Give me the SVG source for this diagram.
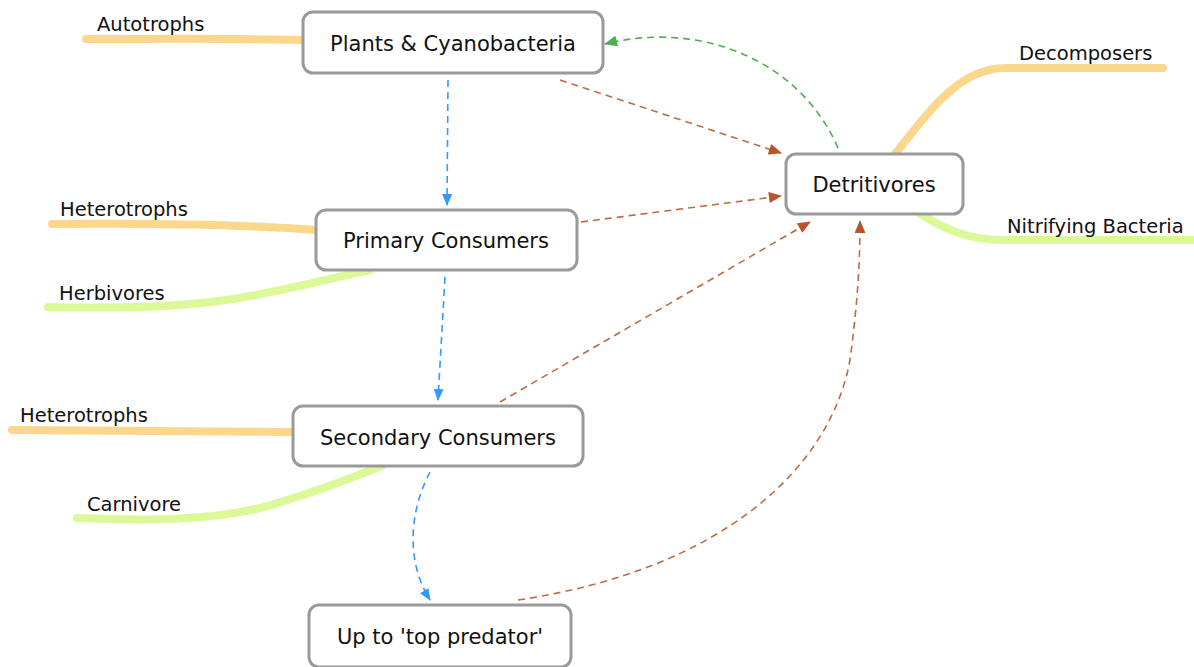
<svg xmlns="http://www.w3.org/2000/svg" width="1194" height="667" viewBox="0 0 1194 667">
  <style>
    .node rect { fill: #ffffff; stroke: #9a9a9a; stroke-width: 3; }
    .node text { font-family: "DejaVu Sans", Verdana, sans-serif; font-size: 21px; fill: #111; text-anchor: middle; }
    .branch path { fill: none; stroke-width: 8; stroke-linecap: round; }
    .branch text { font-family: "DejaVu Sans", Verdana, sans-serif; font-size: 19.5px; fill: #111; }
    .orange { stroke: #fbd78b; }
    .green { stroke: #dbf996; }
    .link { fill: none; stroke-width: 1.6; stroke-dasharray: 7 5; }
    .blue { stroke: #3399ff; }
    .brown { stroke: #c06a44; }
    .lgreen { stroke: #4caf50; }
  </style>
  <defs>
    <marker id="arrow-blue" viewBox="0 0 12 10" refX="11" refY="5" markerWidth="12" markerHeight="10" markerUnits="userSpaceOnUse" orient="auto">
      <path d="M0,0 L12,5 L0,10 Z" fill="#3399ff"/>
    </marker>
    <marker id="arrow-brown" viewBox="0 0 12 10" refX="11" refY="5" markerWidth="14" markerHeight="11" markerUnits="userSpaceOnUse" orient="auto">
      <path d="M0,0 L12,5 L0,10 Z" fill="#b9552d"/>
    </marker>
    <marker id="arrow-green" viewBox="0 0 12 10" refX="11" refY="5" markerWidth="14" markerHeight="11" markerUnits="userSpaceOnUse" orient="auto">
      <path d="M0,0 L12,5 L0,10 Z" fill="#4caf50"/>
    </marker>
  </defs>

  <!-- category branches hanging off the nodes -->
  <g id="branches" class="branch">
    <path class="orange" d="M86,39 C150,39 220,38 303,40"/>
    <text x="97" y="31">Autotrophs</text>

    <path class="orange" d="M52,224 C150,223 250,225 316,230"/>
    <text x="60" y="216">Heterotrophs</text>
    <path class="green" d="M48,307 C130,309 200,306 250,296 C300,287 340,276 370,270"/>
    <text x="59" y="300">Herbivores</text>

    <path class="orange" d="M12,430 C120,430 220,431 293,432"/>
    <text x="20" y="422">Heterotrophs</text>
    <path class="green" d="M77,518 C150,521 210,520 260,508 C310,495 350,478 382,466"/>
    <text x="87" y="511">Carnivore</text>

    <path class="orange" d="M895,154 C930,110 960,68 1005,68 L1163,68"/>
    <text x="1019" y="60">Decomposers</text>
    <path class="green" d="M920,214 C950,232 970,240 1005,240 L1194,240"/>
    <text x="1007" y="233">Nitrifying Bacteria</text>
  </g>

  <!-- flow connectors -->
  <g id="connectors">
    <path class="link blue" d="M448,80 L447,205" marker-end="url(#arrow-blue)"/>
    <path class="link blue" d="M445,277 L438,400" marker-end="url(#arrow-blue)"/>
    <path class="link blue" d="M430,472 C410,510 405,560 430,600" marker-end="url(#arrow-blue)"/>

    <path class="link brown" d="M560,80 L781,153" marker-end="url(#arrow-brown)"/>
    <path class="link brown" d="M581,222 L781,196" marker-end="url(#arrow-brown)"/>
    <path class="link brown" d="M500,402 L810,222" marker-end="url(#arrow-brown)"/>
    <path class="link brown" d="M518,600 C720,570 830,470 850,360 C858,300 860,260 860,221" marker-end="url(#arrow-brown)"/>

    <path class="link lgreen" d="M838,148 C800,60 700,20 605,44" marker-end="url(#arrow-green)"/>
  </g>

  <g id="node-plants" class="node">
    <rect x="303" y="12" width="300" height="61" rx="10"/>
    <text x="453" y="51">Plants &amp; Cyanobacteria</text>
  </g>
  <g id="node-primary" class="node">
    <rect x="316" y="210" width="261" height="60" rx="10"/>
    <text x="446" y="248">Primary Consumers</text>
  </g>
  <g id="node-secondary" class="node">
    <rect x="293" y="406" width="290" height="60" rx="10"/>
    <text x="438" y="445">Secondary Consumers</text>
  </g>
  <g id="node-top" class="node">
    <rect x="309" y="605" width="262" height="62" rx="10"/>
    <text x="440" y="644">Up to 'top predator'</text>
  </g>
  <g id="node-detritivores" class="node">
    <rect x="786" y="154" width="177" height="60" rx="10"/>
    <text x="874" y="192">Detritivores</text>
  </g>
</svg>
